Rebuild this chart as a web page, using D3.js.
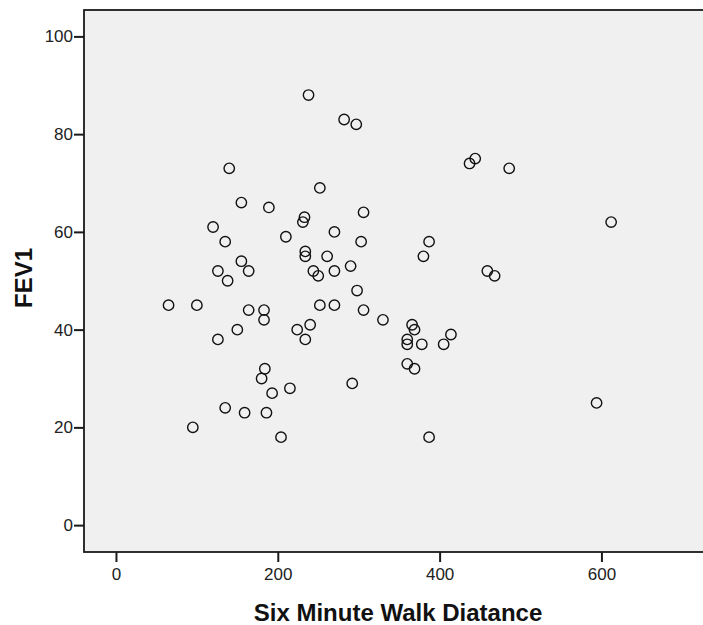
<!DOCTYPE html>
<html>
<head>
<meta charset="utf-8">
<script src="https://cdn.jsdelivr.net/npm/d3@7"></script>
<style>
  body { margin: 0; background: #fff; }
  svg { display: block; font-family: "Liberation Sans", Arial, sans-serif; }
</style>
</head>
<body>
<svg width="703" height="625"></svg>
<script>
// six minute walk distance vs FEV1
var walkDistance = [65, 100, 95, 120, 126, 126, 135, 135, 138, 140,
    150, 155, 155, 159, 164, 164, 180, 183, 183, 184,
    186, 189, 193, 204, 210, 215, 224, 231, 233, 234,
    234, 234, 238, 240, 244, 250, 252, 252, 261, 270,
    270, 270, 282, 290, 292, 297, 298, 303, 306, 306,
    330, 360, 360, 360, 366, 369, 369, 378, 380, 387,
    387, 405, 414, 437, 444, 459, 468, 486, 594, 612];
var fev1 = [45, 45, 20, 61, 52, 38, 58, 24, 50, 73,
    40, 66, 54, 23, 52, 44, 30, 44, 42, 32,
    23, 65, 27, 18, 59, 28, 40, 62, 63, 56,
    55, 38, 88, 41, 52, 51, 69, 45, 55, 60,
    52, 45, 83, 53, 29, 82, 48, 58, 64, 44,
    42, 38, 37, 33, 41, 40, 32, 37, 55, 58,
    18, 37, 39, 74, 75, 52, 51, 73, 25, 62];
var xTicks = [0, 200, 400, 600];
var yTicks = [0, 20, 40, 60, 80, 100];

var svg = d3.select("svg");

var plotL = 84, plotR = 705, plotT = 10, plotB = 552;

var x = d3.scaleLinear().domain([-39.5, 728]).range([plotL, plotR]);
var y = d3.scaleLinear().domain([-5.5, 105.4]).range([plotB, plotT]);

// plot background + frame
svg.append("rect")
    .attr("x", plotL)
    .attr("y", plotT)
    .attr("width", plotR - plotL)
    .attr("height", plotB - plotT)
    .attr("fill", "#f0f0f0")
    .attr("stroke", "#1a1a1a")
    .attr("stroke-width", 1.8);

// axes
var xAxis = svg.append("g")
    .attr("transform", "translate(0," + plotB + ")")
    .call(d3.axisBottom(x).tickValues(xTicks).tickSize(10).tickPadding(6).tickFormat(d3.format("d")));
var yAxis = svg.append("g")
    .attr("transform", "translate(" + plotL + ",0)")
    .call(d3.axisLeft(y).tickValues(yTicks).tickSize(10).tickPadding(1).tickFormat(d3.format("d")));

[xAxis, yAxis].forEach(function(a) {
    a.select(".domain").remove();
    a.selectAll(".tick line").attr("stroke", "#1a1a1a").attr("stroke-width", 2);
    a.selectAll(".tick text")
        .attr("fill", "#222")
        .style("font-family", "'Liberation Sans', Arial, sans-serif")
        .style("font-size", "17px");
});

// points
var pts = walkDistance.map(function(d, i) { return {x: d, y: fev1[i]}; });
svg.append("g")
    .selectAll("circle")
    .data(pts)
    .join("circle")
    .attr("cx", d => x(d.x))
    .attr("cy", d => y(d.y))
    .attr("r", 5.2)
    .attr("fill", "none")
    .attr("stroke", "#111")
    .attr("stroke-width", 1.4);

// axis titles
svg.append("text")
    .attr("x", 398)
    .attr("y", 621)
    .attr("text-anchor", "middle")
    .attr("font-weight", "bold")
    .attr("font-size", "24px")
    .attr("fill", "#111")
    .text("Six Minute Walk Diatance");

svg.append("text")
    .attr("transform", "translate(32,278) rotate(-90)")
    .attr("text-anchor", "middle")
    .attr("font-weight", "bold")
    .attr("font-size", "24px")
    .attr("fill", "#111")
    .text("FEV1");
</script>
</body>
</html>
